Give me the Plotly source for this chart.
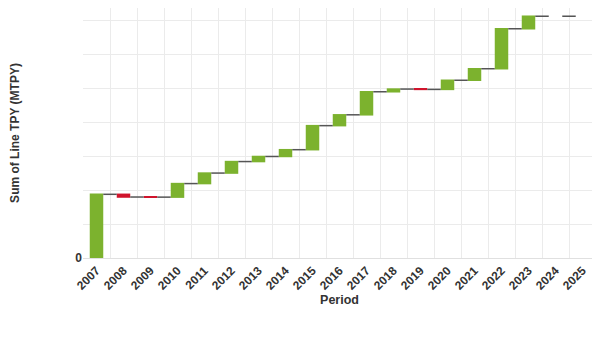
import plotly.graph_objects as go

periods = ["2007", "2008", "2009", "2010", "2011", "2012", "2013", "2014", "2015", "2016",
           "2017", "2018", "2019", "2020", "2021", "2022", "2023", "2024", "2025"]
changes = [18.8, -0.8, -0.03, 4.0, 3.1, 3.4, 1.5, 2.0, 7.1, 3.2,
           6.8, 0.8, -0.1, 2.7, 3.4, 11.8, 3.7, 0.0, 0.0]
measures = ["relative"] * len(periods)
ytick_vals = [0, 10, 20, 30, 40, 50, 60, 70]
ytick_text = ["0", "", "", "", "", "", "", ""]

fig = go.Figure(go.Waterfall(
    x=periods,
    y=changes,
    measure=measures,
    increasing=dict(marker=dict(color="#7CB22E", line=dict(width=0))),
    decreasing=dict(marker=dict(color="#D0142C", line=dict(width=0))),
    connector=dict(line=dict(color="#555555", width=1.5)),
    showlegend=False,
))

# page body has an 8px default margin, so the figure is sized to fit the 600x363 window
fig.update_layout(
    width=592, height=355,
    margin=dict(l=75, r=4, t=0, b=105, pad=0),
    paper_bgcolor="white", plot_bgcolor="white",
    waterfallgap=0.5,
    font=dict(family="Liberation Sans, Arial, sans-serif", color="#333333"),
)
fig.update_xaxes(
    type="category", tickangle=-45, tickson="boundaries", automargin=False,
    showgrid=True, gridcolor="#EBEBEB", gridwidth=1,
    showline=True, linecolor="#E0E0E0", ticks="",
    tickfont=dict(size=12, family="Liberation Sans, Arial, sans-serif", color="#333333", weight="bold"),
    title=dict(text="<b>Period</b>", font=dict(size=12.5), standoff=2),
)
fig.update_yaxes(
    range=[0, 73.8], tickvals=ytick_vals, ticktext=ytick_text, automargin=False,
    showgrid=True, gridcolor="#EBEBEB", gridwidth=1, zeroline=False,
    tickfont=dict(size=12, color="#333333", weight="bold"),
    title=dict(text="<b>Sum of Line TPY (MTPY)</b>", font=dict(size=12), standoff=53),
)

fig.write_html("out.html")
